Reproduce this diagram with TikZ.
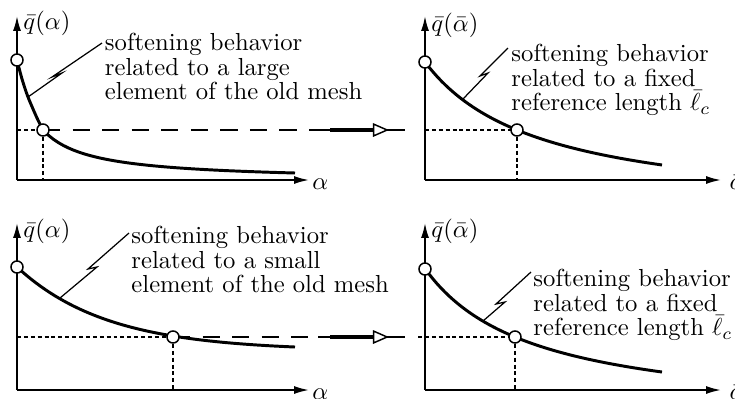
\documentclass[tikz,border=0pt]{standalone}
\usepackage{amsmath,amssymb}
\usepackage{tikz}
\usetikzlibrary{arrows.meta}

\begin{document}
\begin{tikzpicture}[x=0.406pt, y=-0.406pt]
    \tikzstyle{axis} = [line width=0.7pt, -{Latex[length=6pt,width=3.2pt]}]
    \tikzstyle{curve} = [line width=1.2pt]
    \tikzstyle{marker} = [draw, circle, fill=white, line width=0.6pt, minimum size=4.9pt, inner sep=0pt]
    \tikzstyle{guide} = [line width=0.5pt, dash pattern=on 1.6pt off 1.2pt]
    \tikzstyle{transfer} = [line width=0.5pt, dash pattern=on 7pt off 5pt]
    \tikzstyle{leader} = [line width=0.5pt]
    \tikzstyle{bigarrow} = [line width=2pt, -{Triangle[fill=white, length=6.5pt, width=5.5pt, line width=0.6pt]}]
    \tikzstyle{note} = [anchor=north west, inner sep=0pt, align=left, font=\fontsize{10}{9.9}\selectfont]
    \tikzstyle{lbl} = [anchor=base west, inner sep=0pt]

    \useasboundingbox (0,0) rectangle (735,398);

    % top left: large old element
    \coordinate (oTL) at (17,180);
    \coordinate (yTL) at (17,16);
    \coordinate (xTL) at (309,180);
    \coordinate (hTL) at (17,130);
    \coordinate (pTL) at (43,130);
    \draw[axis] (oTL) -- (yTL);
    \draw[axis] (oTL) -- (xTL);
    \node[lbl] (qTL) at (23,29) {$\bar q(\alpha)$};
    \node[lbl] (aTL) at (312,189) {$\alpha$};
    \draw[curve] plot[smooth] coordinates {(17,60) (22,79) (28,97) (37,118) (43,130)};
    \draw[curve] plot[domain=43:295, samples=50] (\x, {180.98-2385.6/(\x+3.79)});
    \draw[guide] (hTL) -- (pTL);
    \draw[guide] (pTL) -- (pTL |- oTL);
    \draw[leader] (28,97) -- (62,73) -- (52,77) -- (102,43);
    \node[note] (noteTL) at (104.5,33) {softening behavior\\related to a large\\element of the old mesh};

    % top right: fixed reference length
    \coordinate (oTR) at (425,180);
    \coordinate (yTR) at (425,16);
    \coordinate (xTR) at (721,180);
    \coordinate (hTR) at (425,130);
    \coordinate (pTR) at (517,130);
    \draw[axis] (oTR) -- (yTR);
    \draw[axis] (oTR) -- (xTR);
    \node[lbl] (qTR) at (431,31) {$\bar q(\bar\alpha)$};
    \node[lbl] (aTR) at (729,189) {$\bar\alpha$};
    \draw[curve] plot[domain=425:662, samples=60] (\x, {214.9-175.71/(\x-310.1)*100});
    \draw[guide] (hTR) -- (pTR);
    \draw[guide] (pTR) -- (pTR |- oTR);
    \draw[leader] (463,99) -- (488,73) -- (480,76) -- (508,48);
    \node[note] (noteTR) at (511,44) {softening behavior\\related to a fixed\\reference length $\bar\ell_c$};

    % bottom left: small old element
    \coordinate (oBL) at (17,390);
    \coordinate (yBL) at (17,223);
    \coordinate (xBL) at (309,390);
    \coordinate (hBL) at (17,337);
    \coordinate (pBL) at (173,337);
    \draw[axis] (oBL) -- (yBL);
    \draw[axis] (oBL) -- (xBL);
    \node[lbl] (qBL) at (23,237) {$\bar q(\alpha)$};
    \node[lbl] (aBL) at (312,399) {$\alpha$};
    \draw[curve] plot[domain=17:295, samples=60] (\x, {350.84-83.84*exp(-0.0111*(\x-17))});
    \draw[guide] (hBL) -- (pBL);
    \draw[guide] (pBL) -- (pBL |- oBL);
    \draw[leader] (60,298) -- (97,267) -- (88,269) -- (129,233);
    \node[note] (noteBL) at (131,226) {softening behavior\\related to a small\\element of the old mesh};

    % bottom right: fixed reference length
    \coordinate (oBR) at (425,390);
    \coordinate (yBR) at (425,223);
    \coordinate (xBR) at (721,390);
    \coordinate (hBR) at (418,337);
    \coordinate (pBR) at (515,337);
    \draw[axis] (oBR) -- (yBR);
    \draw[axis] (oBR) -- (xBR);
    \node[lbl] (qBR) at (431,237) {$\bar q(\bar\alpha)$};
    \node[lbl] (aBR) at (729,399) {$\bar\alpha$};
    \draw[curve] plot[domain=425:662, samples=60] (\x, {419.2-162.93/(\x-316.8)*100});
    \draw[guide] (hBR) -- (pBR);
    \draw[guide] (pBR) -- (pBR |- oBR);
    \draw[leader] (483,321) -- (505,302) -- (496,304) -- (531,272);
    \node[note] (noteBR) at (533,269) {softening behavior\\related to a fixed\\reference length $\bar\ell_c$};

    % transfer from old to new mesh
    \coordinate (t1a) at (318,130);
    \coordinate (t1b) at (330,130);
    \coordinate (t1c) at (389,130);
    \coordinate (t1d) at (405,130);
    \draw[transfer] (pTL) -- (t1a);
    \draw[leader] (t1a) -- (t1d);
    \draw[bigarrow] (t1b) -- (t1c);
    \coordinate (t2a) at (318,337);
    \coordinate (t2b) at (330,337);
    \coordinate (t2c) at (389,337);
    \coordinate (t2d) at (405,337);
    \draw[transfer] (pBL) -- (t2a);
    \draw[leader] (t2a) -- (t2d);
    \draw[bigarrow] (t2b) -- (t2c);

    % markers on top
    \node[marker] (cTL1) at (17,60) {};
    \node[marker] (cTL2) at (pTL) {};
    \node[marker] (cTR1) at (425,62) {};
    \node[marker] (cTR2) at (pTR) {};
    \node[marker] (cBL1) at (17,267) {};
    \node[marker] (cBL2) at (pBL) {};
    \node[marker] (cBR1) at (425,269) {};
    \node[marker] (cBR2) at (pBR) {};
\end{tikzpicture}
\end{document}
